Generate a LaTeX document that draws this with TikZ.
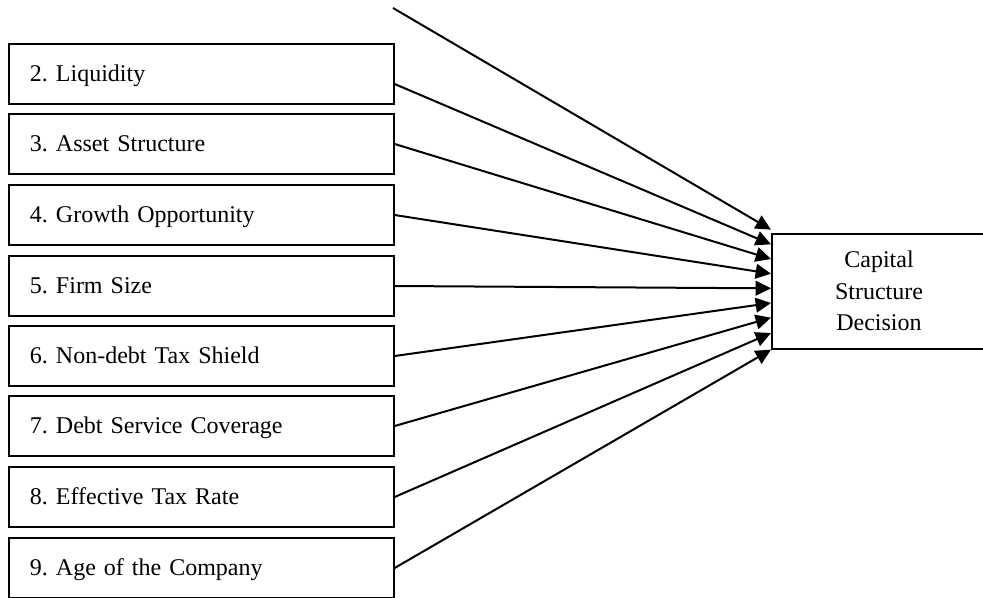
\documentclass[tikz,border=0pt]{standalone}
\usepackage{fontspec}
\setmainfont{Liberation Serif}
\frenchspacing
\usetikzlibrary{arrows.meta}
\begin{document}
\begin{tikzpicture}[x=0.75pt,y=-0.75pt,
           factor_style/.style={draw=black,line width=1.5pt,anchor=west,align=left,
             text width=257pt,inner xsep=15.75pt,minimum height=45pt,
             text height=13pt,text depth=2.5pt,font=\fontsize{18}{21.6}\selectfont},
           decision_style/.style={draw=black,line width=1.5pt,align=center,
             minimum width=160.5pt,minimum height=86.25pt,text depth=0pt,
             font=\fontsize{18}{23.6}\selectfont},
           edge_style/.style={draw=black,line width=1.5pt,-{Triangle[length=11.5pt,width=11pt]}}]
            \useasboundingbox (0,0) rectangle (983,597);
            \coordinate (b1) at (393, 8);
            \node[factor_style] (b2) at (8, 74)  {2. Liquidity};
            \node[factor_style] (b3) at (8, 144) {3. Asset Structure};
            \node[factor_style] (b4) at (8, 215) {4. Growth Opportunity};
            \node[factor_style] (b5) at (8, 286) {5. Firm Size};
            \node[factor_style] (b6) at (8, 356) {6. Non-debt Tax Shield};
            \node[factor_style] (b7) at (8, 426) {7. Debt Service Coverage};
            \node[factor_style] (b8) at (8, 497) {8. Effective Tax Rate};
            \node[factor_style] (b9) at (8, 568) {9. Age of the Company};
            \node[decision_style] (csd) at (879, 291) {Capital\\Structure\\Decision};
            \draw[edge_style]  (b1) -- ([yshift=46pt]csd.west);
            \draw[edge_style]  ([yshift=-7.5pt]b2.east) -- ([yshift=35pt]csd.west);
            \draw[edge_style]  (b3.east) -- ([yshift=24pt]csd.west);
            \draw[edge_style]  (b4.east) -- ([yshift=13pt]csd.west);
            \draw[edge_style]  (b5.east) -- ([yshift=2pt]csd.west);
            \draw[edge_style]  (b6.east) -- ([yshift=-9pt]csd.west);
            \draw[edge_style]  (b7.east) -- ([yshift=-20pt]csd.west);
            \draw[edge_style]  (b8.east) -- ([yshift=-31.5pt]csd.west);
            \draw[edge_style]  (b9.east) -- ([yshift=-44pt]csd.west);
        \end{tikzpicture}
\end{document}
